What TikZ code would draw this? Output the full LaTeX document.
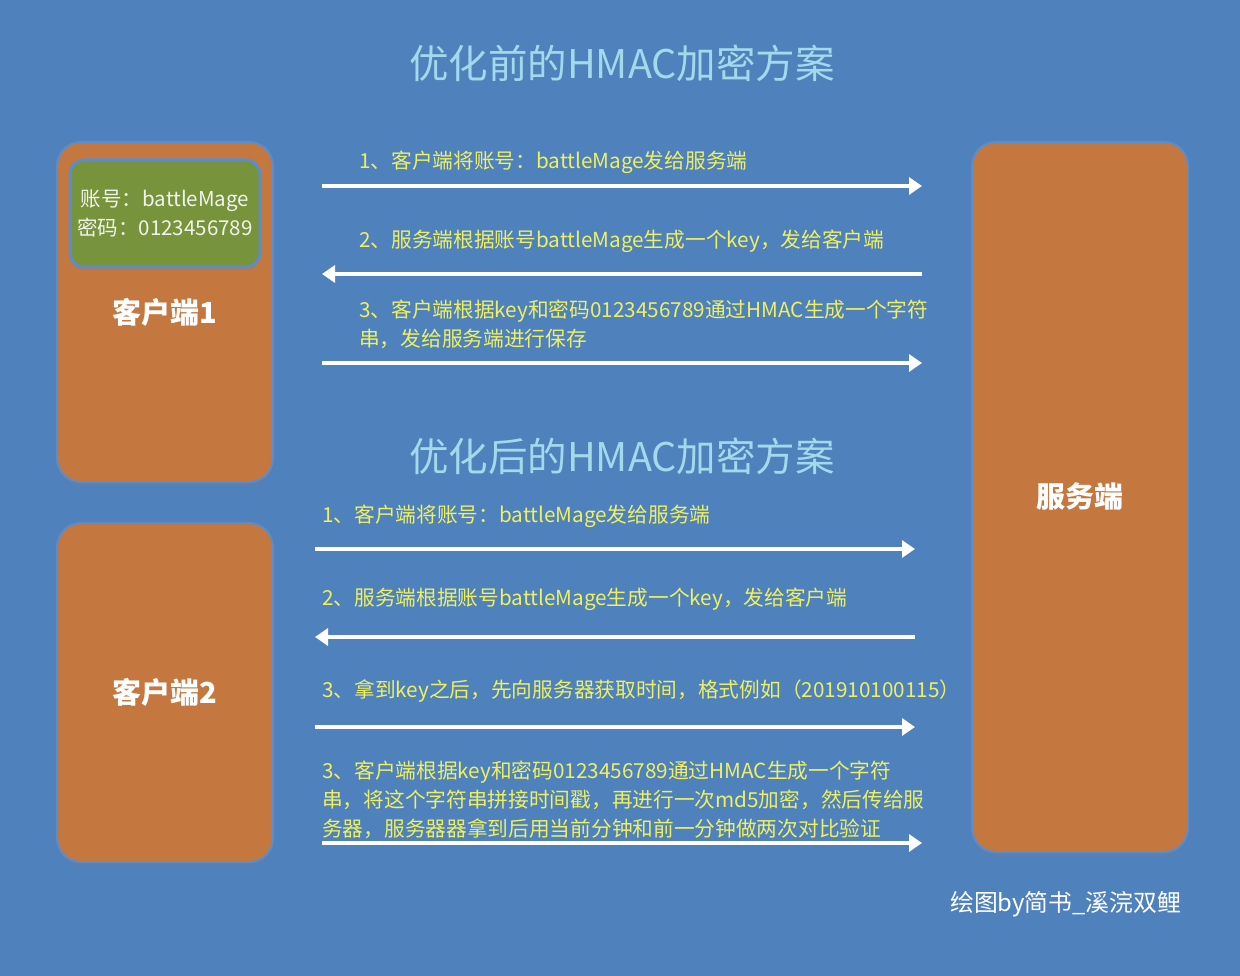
\documentclass[tikz,border=0pt]{standalone}
\usepackage{fontspec}
\setmainfont{Noto Sans CJK SC}
\usepackage{xcolor}
\usepackage{tikz}
\usetikzlibrary{arrows.meta,positioning,shadows}

\definecolor{bgblue}{HTML}{4F81BD}
\definecolor{boxorange}{HTML}{C4773F}
\definecolor{boxgreen}{HTML}{77933C}
\definecolor{edgeblue}{HTML}{5B8DCC}
\definecolor{titlecyan}{HTML}{A3D9EA}
\definecolor{msgyellow}{HTML}{EEF060}

\begin{document}
\begin{tikzpicture}[
  x=1pt,
  y=-1pt,
  party/.style={fill=boxorange, draw=edgeblue, line width=2pt, rounded corners=24pt,
    minimum width=216pt, drop shadow={shadow xshift=0pt, shadow yshift=-4pt, opacity=0.25}},
  card/.style={fill=boxgreen, draw=edgeblue, line width=3pt, rounded corners=14pt,
    minimum width=190pt, minimum height=107pt, align=center, text=white!90!boxgreen,
    font=\fontsize{20.5}{29}\selectfont,
    drop shadow={shadow xshift=0pt, shadow yshift=-3pt, opacity=0.3}},
  heading/.style={font=\fontsize{39.5}{44}\selectfont, text=titlecyan},
  partylabel/.style={font=\fontsize{29}{34}\selectfont\bfseries, text=white},
  msg/.style={font=\fontsize{20.7}{29}\selectfont, text=msgyellow, anchor=west, align=left, inner sep=0pt},
  arrow/.style={white, line width=3.5pt, -{Triangle[length=13pt,width=17pt]}}
]
  \fill[bgblue] (0,0) rectangle (1240,976);
  \useasboundingbox (0,0) rectangle (1240,976);

  \node[heading] (before) at (622,63) {优化前的HMAC加密方案};
  \node[heading] (after) at (622,456) {优化后的HMAC加密方案};

  \node[party, minimum height=340pt, partylabel] (client1) at (165,312) {客户端1};
  \node[party, minimum height=339pt, partylabel] (client2) at (165,692.5) {客户端2};
  \node[party, minimum height=710pt, partylabel] (server) at (1080,497) {服务端};

  \node[card] (account) at (165,213.5) {账号：battleMage\\密码：0123456789};

  \foreach \n/\xa/\xb/\y in {a1/322/922/186, a2/922/322/274, a3/322/922/363,
                             b1/315/915/549, b2/915/315/637, b3/315/915/727, b4/322/922/843} {
    \coordinate (\n s) at (\xa,\y);
    \coordinate (\n e) at (\xb,\y);
    \draw[arrow] (\n s) -- (\n e);
  }

  \node[msg] (msga1) at (359,162) {1、客户端将账号：battleMage发给服务端};
  \node[msg] (msga2) at (359,241) {2、服务端根据账号battleMage生成一个key，发给客户端};
  \node[msg] (msga3) at (359,324.5) {3、客户端根据key和密码0123456789通过HMAC生成一个字符\\串，发给服务端进行保存};

  \node[msg] (msgb1) at (322,516) {1、客户端将账号：battleMage发给服务端};
  \node[msg] (msgb2) at (322,599) {2、服务端根据账号battleMage生成一个key，发给客户端};
  \node[msg] (msgb3) at (322,691) {3、拿到key之后，先向服务器获取时间，格式例如（201910100115）};
  \node[msg] (msgb4) at (322,800) {3、客户端根据key和密码0123456789通过HMAC生成一个字符\\串，将这个字符串拼接时间戳，再进行一次md5加密，然后传给服\\务器，服务器器拿到后用当前分钟和前一分钟做两次对比验证};

  \node[font=\fontsize{23.8}{28}\selectfont, text=white, anchor=west, inner sep=0pt] (credit) at (950,904) {绘图by简书\_溪浣双鲤};
\end{tikzpicture}
\end{document}
